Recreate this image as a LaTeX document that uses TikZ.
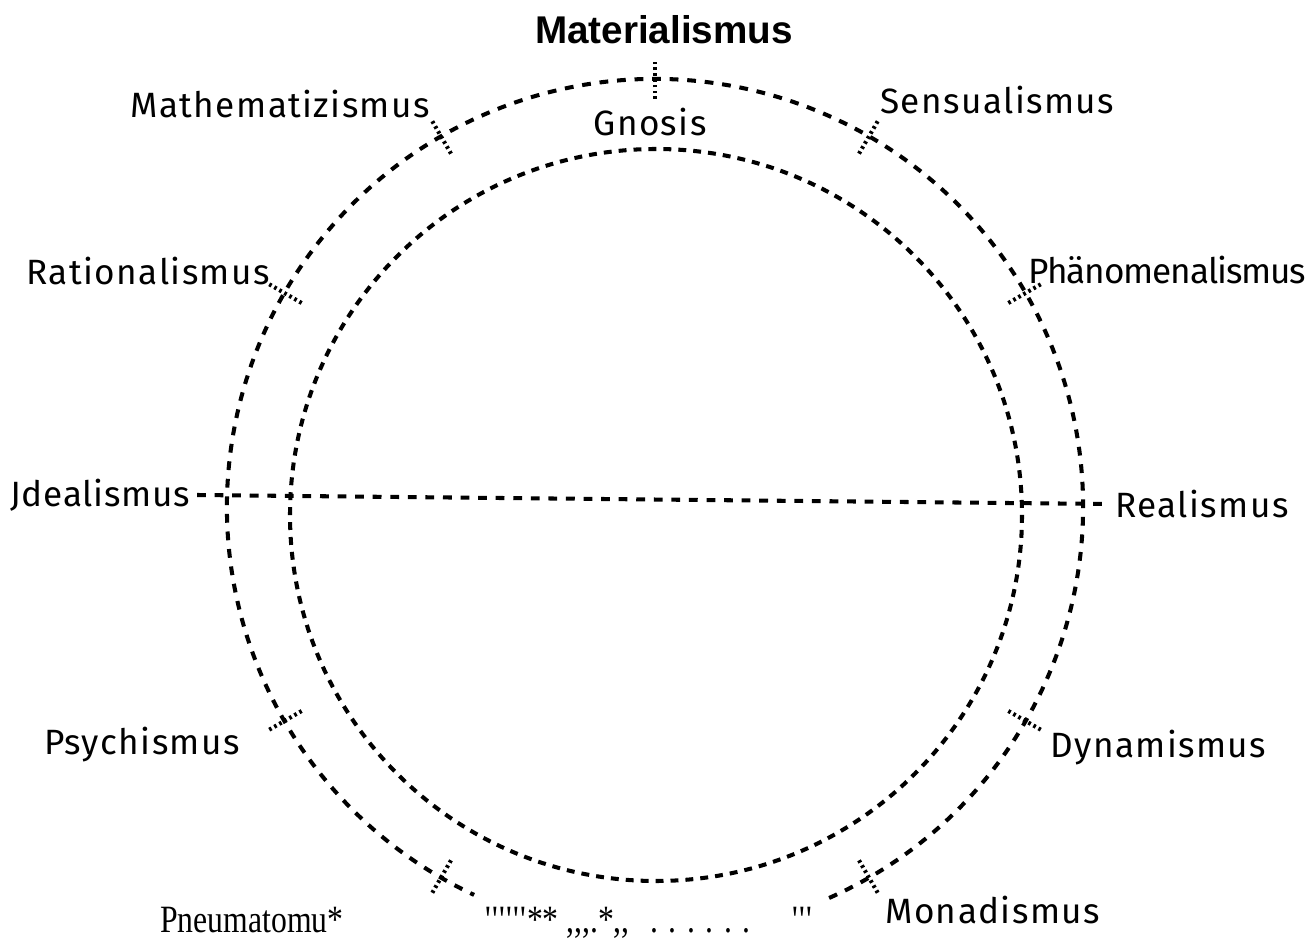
\documentclass[tikz,border=0pt]{standalone}
\usepackage{fontspec}
\setmainfont{Liberation Serif}
\newfontfamily\handfont[LetterSpace=4]{Fira Sans}
\newfontfamily\headfont{Liberation Sans}
\newfontfamily\printfont[FakeStretch=0.82]{Liberation Serif}
\usetikzlibrary{calc}
\tikzset{
	ringdash/.style={line width=2.3pt, dash pattern=on 5pt off 5pt},
	innerdash/.style={line width=2.3pt, dash pattern=on 4.5pt off 4pt},
	tickmark/.style={line width=2.3pt, dash pattern=on 1.5pt off 1.8pt},
	handlabel/.style={font=\handfont\fontsize{20}{24}\selectfont, inner sep=0pt},
	headlabel/.style={font=\headfont\bfseries\fontsize{22}{26}\selectfont, inner sep=0pt},
	printlabel/.style={font=\printfont\fontsize{22}{26}\selectfont, inner sep=0pt, anchor=base west},
}

\begin{document}
\begin{tikzpicture}[x=0.02cm, y=-0.02cm]
			%%%%% START %%%%%
			\useasboundingbox (0,0) rectangle (1313,945);
			
			\coordinate (oc) at (655,507);
			\coordinate (ic) at (656,515);
			
			% the two rings (outer one broken at the foot)
			\draw[ringdash] ($(oc)+(66:428)$) arc[start angle=66, end angle=-245, radius=428];
			\draw[innerdash] (ic) circle (366);
			
			% cross marks on the outer ring
			\foreach \a in {90,60,30,-30,-60,-120,-150,150,120}
				\draw[tickmark] ($(oc)+(-\a:408)$) -- ($(oc)+(-\a:448)$);
			
			\node[headlabel] (materialismus) at (664,30) {Materialismus};
			\node[handlabel] (gnosis) at (650,122) {Gnosis};
			\node[handlabel, anchor=east] (mathematizismus) at (430,104) {Mathematizismus};
			\node[handlabel, anchor=west] (sensualismus) at (880,100) {Sensualismus};
			\node[handlabel, anchor=east] (rationalismus) at (270,271) {Rationalismus};
			\node[handlabel, anchor=west] (phaenomenalismus) at (1028,270) {\addfontfeatures{LetterSpace=-3}Phänomenalismus};
			\node[handlabel, anchor=east] (jdealismus) at (190,495) {\addfontfeatures{LetterSpace=2}Jdealismus};
			\node[handlabel, anchor=west] (realismus) at (1115,504) {Realismus};
			\node[handlabel, anchor=east] (psychismus) at (240,745) {Psychismus};
			\node[handlabel, anchor=west] (dynamismus) at (1050,748) {Dynamismus};
			\node[handlabel, anchor=west] (monadismus) at (885,910) {Monadismus};
			
			% the axis
			\draw[ringdash] ([xshift=4pt]jdealismus.east) -- ([xshift=-4pt]realismus.west);
			
			\node[printlabel] (pneumatomu) at (160,932) {Pneumatomu*};
			\node[printlabel] (garbA) at (485,932) {\textquotesingle\textquotesingle\textquotesingle\textquotesingle\textquotesingle\textquotesingle**};
			\node[printlabel] (garbB) at (566,932) {,,,.*,,};
			\node[printlabel] (garbC) at (650,932) {. . . . . .};
			\node[printlabel] (garbD) at (792,932) {\textquotesingle\textquotesingle\textquotesingle};
			
			%%%%% END %%%%%
\end{tikzpicture}
\end{document}
